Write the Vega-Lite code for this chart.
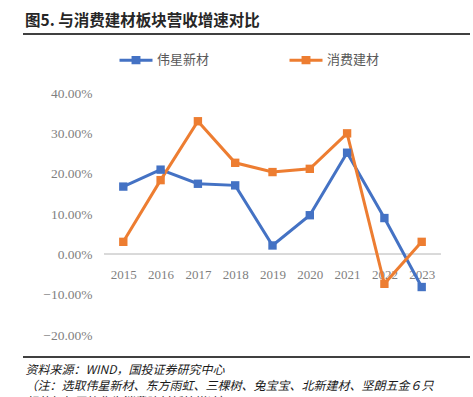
{
  "$schema": "https://vega.github.io/schema/vega-lite/v6.json",
  "width": 447,
  "height": 323,
  "autosize": {"type": "none"},
  "padding": {"left": 23, "top": 34, "right": 3, "bottom": 40},
  "background": "white",
  "title": {
    "text": "图5. 与消费建材板块营收增速对比",
    "anchor": "start",
    "frame": "group",
    "dx": 2,
    "offset": 4,
    "font": "Noto Sans CJK SC",
    "fontSize": 15.5,
    "fontWeight": "bold",
    "color": "#262626"
  },
  "data": {
    "values": [
      {"series": "伟星新材", "year": 2015, "value": 0.168},
      {"series": "伟星新材", "year": 2016, "value": 0.210},
      {"series": "伟星新材", "year": 2017, "value": 0.175},
      {"series": "伟星新材", "year": 2018, "value": 0.171},
      {"series": "伟星新材", "year": 2019, "value": 0.022},
      {"series": "伟星新材", "year": 2020, "value": 0.097},
      {"series": "伟星新材", "year": 2021, "value": 0.252},
      {"series": "伟星新材", "year": 2022, "value": 0.090},
      {"series": "伟星新材", "year": 2023, "value": -0.081},
      {"series": "消费建材", "year": 2015, "value": 0.031},
      {"series": "消费建材", "year": 2016, "value": 0.184},
      {"series": "消费建材", "year": 2017, "value": 0.330},
      {"series": "消费建材", "year": 2018, "value": 0.227},
      {"series": "消费建材", "year": 2019, "value": 0.204},
      {"series": "消费建材", "year": 2020, "value": 0.212},
      {"series": "消费建材", "year": 2021, "value": 0.300},
      {"series": "消费建材", "year": 2022, "value": -0.073},
      {"series": "消费建材", "year": 2023, "value": 0.031}
    ]
  },
  "layer": [
    {
      "mark": {"type": "rule", "color": "#404040", "strokeWidth": 2},
      "encoding": {"y": {"datum": 0.5463, "type": "quantitative"}}
    },
    {
      "mark": {"type": "rule", "color": "#404040", "strokeWidth": 2},
      "encoding": {"y": {"datum": -0.2545, "type": "quantitative"}}
    },
    {
      "mark": {"type": "rule", "color": "#d9d9d9", "strokeWidth": 1.5},
      "encoding": {
        "x": {"datum": 2014.5, "type": "quantitative"},
        "x2": {"datum": 2023.5},
        "y": {"datum": 0, "type": "quantitative"}
      }
    },
    {
      "mark": {"type": "line", "strokeWidth": 3, "point": {"shape": "square", "size": 70, "filled": true, "opacity": 1}},
      "encoding": {
        "x": {
          "field": "year",
          "type": "quantitative",
          "scale": {"domain": [2012.311, 2024.295], "nice": false, "zero": false},
          "axis": {
            "title": [
              "资料来源：WIND，国投证券研究中心",
              "（注：选取伟星新材、东方雨虹、三棵树、兔宝宝、北新建材、坚朗五金６只",
              "标的加权平均作为消费建材板块增速）"
            ],
            "titleX": 2,
            "titleY": 110,
            "titleAlign": "left",
            "titleAnchor": "start",
            "titleBaseline": "top",
            "titleFont": "Noto Sans CJK SC",
            "titleFontSize": 12,
            "titleFontWeight": "normal",
            "titleFontStyle": "italic",
            "titleColor": "#1a1a1a",
            "titleLineHeight": 16,
            "values": [2015, 2016, 2017, 2018, 2019, 2020, 2021, 2022, 2023],
            "format": "d",
            "offset": -103,
            "domain": false,
            "ticks": false,
            "grid": false,
            "labelAngle": 0,
            "labelPadding": 14,
            "labelFont": "Liberation Serif",
            "labelFontSize": 13,
            "labelColor": "#7f7f7f"
          }
        },
        "y": {
          "field": "value",
          "type": "quantitative",
          "scale": {"domain": [-0.2545, 0.5463], "nice": false, "zero": false},
          "axis": {
            "title": null,
            "values": [-0.2, -0.1, 0, 0.1, 0.2, 0.3, 0.4],
            "format": ".2%",
            "offset": -81,
            "domain": false,
            "ticks": false,
            "grid": false,
            "labelPadding": 12,
            "labelFont": "Liberation Serif",
            "labelFontSize": 13.5,
            "labelColor": "#7f7f7f"
          }
        },
        "color": {
          "field": "series",
          "type": "nominal",
          "scale": {"domain": ["伟星新材", "消费建材"], "range": ["#4472C4", "#ED7D31"]},
          "legend": {
            "title": null,
            "orient": "none",
            "direction": "horizontal",
            "legendX": 95,
            "legendY": 8,
            "symbolType": "M-1,0H1M-0.27,-0.16H0.27M-0.27,-0.08H0.27M-0.27,0H0.27M-0.27,0.08H0.27M-0.27,0.16H0.27",
            "symbolSize": 1089,
            "symbolStrokeWidth": 3,
            "symbolFillColor": "transparent",
            "symbolOpacity": 1,
            "labelFont": "Noto Sans CJK SC",
            "labelFontSize": 13,
            "labelColor": "#595959",
            "labelOffset": 3,
            "columnPadding": 73
          }
        }
      }
    }
  ],
  "config": {"view": {"stroke": null}}
}
